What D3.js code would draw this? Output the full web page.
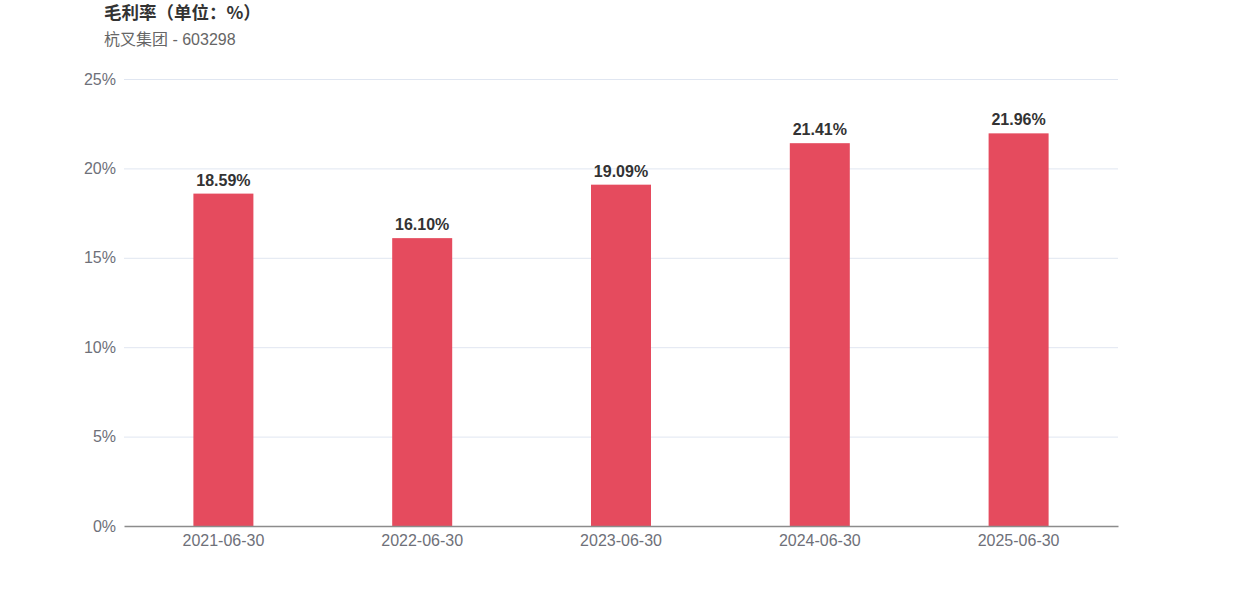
<!DOCTYPE html>
<html><head><meta charset="utf-8">
<script src="https://cdn.jsdelivr.net/npm/d3@7"></script>
<style>body{margin:0;background:#fff;}svg{display:block;font-family:"Liberation Sans","Noto Sans CJK SC",sans-serif;}</style>
</head><body>
<svg id="c" width="1242" height="596"></svg>
<script>
const categories = ["2021-06-30","2022-06-30","2023-06-30","2024-06-30","2025-06-30"];
const values = [18.59, 16.10, 19.09, 21.41, 21.96];
const yTicks = [0,5,10,15,20,25];
const titleText = "毛利率（单位：%）";
const subtitleText = "杭叉集团 - 603298";

const svg = d3.select("#c");
const m = {left:124, right:1118, top:79, bottom:526};
const x = d3.scaleBand().domain(categories).range([m.left,m.right]).paddingInner(0).paddingOuter(0);
const y = d3.scaleLinear().domain([0,25]).range([m.bottom,m.top]);

svg.append("text").attr("x",104).attr("y",19).attr("font-size",17.5).attr("font-weight","bold").attr("fill","#333")
  .attr("font-family","'Noto Sans CJK SC','Liberation Sans',sans-serif").text(titleText);
svg.append("text").attr("x",104).attr("y",45).attr("font-size",16).attr("fill","#666")
  .attr("font-family","'Liberation Sans','Noto Sans CJK SC',sans-serif").text(subtitleText);

// grid
svg.append("g").selectAll("line").data(yTicks.filter(d=>d>0)).join("line")
  .attr("x1",m.left).attr("x2",m.right).attr("y1",d=>y(d)+0.5).attr("y2",d=>y(d)+0.5)
  .attr("stroke","#e0e6f1").attr("stroke-width",1);

// y labels
const yAxis = d3.axisLeft(y).tickValues(yTicks).tickFormat(d=>d+"%").tickSize(0).tickPadding(8);
const gy = svg.append("g").attr("transform",`translate(${m.left},0)`).call(yAxis);
gy.select(".domain").remove();
gy.selectAll("text").attr("font-size",16).attr("fill","#6e7079").attr("font-family","'Liberation Sans',sans-serif");

// bars
const bw = 60;
svg.append("g").selectAll("rect").data(values).join("rect")
  .attr("x",(d,i)=>x(categories[i])+x.bandwidth()/2-bw/2)
  .attr("width",bw)
  .attr("y",d=>y(d)).attr("height",d=>y(0)-y(d))
  .attr("fill","#e54b5e");

// labels
svg.append("g").selectAll("text").data(values).join("text")
  .attr("x",(d,i)=>x(categories[i])+x.bandwidth()/2)
  .attr("y",d=>y(d)-8)
  .attr("text-anchor","middle").attr("font-size",16).attr("font-weight","bold").attr("fill","#333")
  .text(d=>d.toFixed(2)+"%");

// x axis
const xAxis = d3.axisBottom(x).tickSize(0).tickPadding(9);
const gx = svg.append("g").attr("transform",`translate(0,${m.bottom})`).call(xAxis);
gx.select(".domain").attr("stroke","#8c8c8c").attr("stroke-width",1.3);
gx.selectAll("text").attr("font-size",16).attr("fill","#6e7079").attr("font-family","'Liberation Sans',sans-serif");
</script>
</body></html>
